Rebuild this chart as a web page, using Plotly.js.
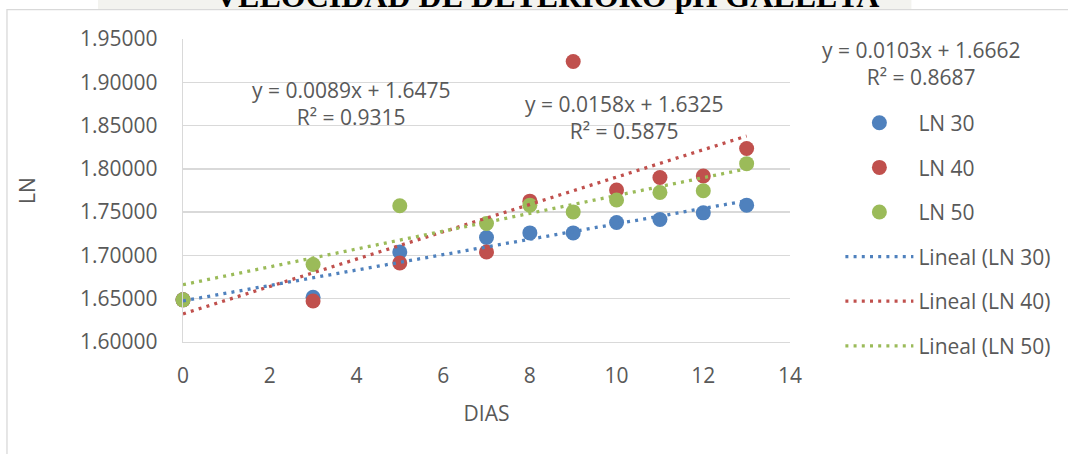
<!DOCTYPE html>
<html>
<head>
<meta charset="utf-8">
<script src="https://cdn.plot.ly/plotly-3.0.1.min.js"></script>
<style>html,body{margin:0;padding:0;background:#fff;}#chart{width:1068px;height:454px;}</style>
</head>
<body>
<div id="chart"></div>
<script>
// ---- data ----
const TITLE = "VELOCIDAD DE DETERIORO pH GALLETA";
const X_TITLE = "DIAS";
const Y_TITLE = "LN";
const DIAS = [0, 3, 5, 7, 8, 9, 10, 11, 12, 13];
const LN30 = [1.6487, 1.6516, 1.7040, 1.7207, 1.7260, 1.7260, 1.7381, 1.7415, 1.7492, 1.7581];
const LN40 = [1.6487, 1.6473, 1.6913, 1.7040, 1.7627, 1.9240, 1.7755, 1.7901, 1.7917, 1.8235];
const LN50 = [1.6487, 1.6895, 1.7573, 1.7369, 1.7581, 1.7503, 1.7640, 1.7728, 1.7747, 1.8060];
const SERIES_NAMES = ["LN 30", "LN 40", "LN 50"];
const TREND_NAMES = ["Lineal (LN 30)", "Lineal (LN 40)", "Lineal (LN 50)"];
const SLOPES = [0.0089, 0.0158, 0.0103];
const INTERCEPTS = [1.6475, 1.6325, 1.6662];
const R2 = [0.9315, 0.5875, 0.8687];
const X_TICKS = [0, 2, 4, 6, 8, 10, 12, 14];
const Y_TICKS = [1.60, 1.65, 1.70, 1.75, 1.80, 1.85, 1.90, 1.95];

// ---- styling ----
const COLORS = ["#4F81BD", "#C0504D", "#9BBB59"];
const FONT = "Open Sans, Noto Sans, sans-serif";
const TXT = "#595959";
const GRID = "#d9d9d9";

const seriesY = [LN30, LN40, LN50];
const traces = [];
seriesY.forEach((ys, i) => {
  traces.push({
    type: "scatter", mode: "markers", x: DIAS, y: ys, name: SERIES_NAMES[i],
    marker: {color: COLORS[i], size: 15}, cliponaxis: false,
    legendgroup: "g" + i
  });
});
const xmin = Math.min(...DIAS), xmax = Math.max(...DIAS);
SLOPES.forEach((m, i) => {
  const xs = [xmin, xmax];
  traces.push({
    type: "scatter", mode: "lines", x: xs, y: xs.map(v => m * v + INTERCEPTS[i]),
    name: TREND_NAMES[i],
    line: {color: COLORS[i], width: 3.3, dash: "3px,5.2px"},
    legendgroup: "t" + i
  });
});

// annotation placement (paper coords)
const eqPos = [[0.277, 0.786], [0.7265, 0.742], [1.215, 0.92]];
const annotations = SLOPES.map((m, i) => ({
  xref: "paper", yref: "paper", x: eqPos[i][0], y: eqPos[i][1],
  xanchor: "center", yanchor: "middle", showarrow: false, align: "center",
  text: "y = " + m.toFixed(4) + "x + " + INTERCEPTS[i].toFixed(4) + "<br>R² = " + R2[i].toFixed(4),
  font: {family: FONT, size: 21, color: TXT}
}));
annotations.push({
  xref: "paper", yref: "paper", x: 0.600, y: 1.077, xanchor: "center", yanchor: "bottom",
  showarrow: false, text: "<b>" + TITLE + "</b>",
  font: {family: "Liberation Serif, Times New Roman, serif", size: 32, color: "#000"}
});

const layout = {
  width: 1068, height: 454,
  margin: {l: 183, r: 278, t: 39, b: 112, pad: 0},
  paper_bgcolor: "#ffffff", plot_bgcolor: "#ffffff",
  font: {family: FONT, color: TXT, size: 21},
  showlegend: true,
  legend: {
    x: 1.083, y: 0.79, xanchor: "left", yanchor: "top",
    font: {family: FONT, size: 21, color: TXT},
    tracegroupgap: 14.3, itemwidth: 68, bgcolor: "rgba(0,0,0,0)"
  },
  xaxis: {
    range: [0, 14], tickvals: X_TICKS, ticktext: X_TICKS.map(String),
    showgrid: false, zeroline: false, showline: true, linecolor: GRID, linewidth: 1.3,
    ticks: "", tickfont: {family: FONT, size: 21, color: TXT}, ticklabelstandoff: 14,
    title: {text: X_TITLE, font: {family: FONT, size: 21, color: TXT}, standoff: 18}
  },
  yaxis: {
    range: [1.6, 1.95], tickvals: Y_TICKS, ticktext: Y_TICKS.map(v => v.toFixed(5)),
    showgrid: true, gridcolor: GRID, gridwidth: 1.3, zeroline: false,
    showline: true, linecolor: GRID, linewidth: 1.3,
    ticks: "", tickfont: {family: FONT, size: 21, color: TXT}, ticklabelstandoff: 20,
    title: {text: Y_TITLE, font: {family: FONT, size: 21, color: TXT}, standoff: 38}
  },
  shapes: [
    {type: "rect", xref: "paper", yref: "paper", x0: -0.14, x1: 1.2, y0: 1.097, y1: 1.14,
     fillcolor: "#f3f3ef", line: {width: 0}, layer: "below"},
    {type: "rect", xref: "paper", yref: "paper", x0: -0.29, x1: 1.5, y0: -0.5, y1: 1.097,
     fillcolor: "rgba(0,0,0,0)", line: {color: GRID, width: 1.3}, layer: "below"}
  ],
  annotations: annotations
};

Plotly.newPlot("chart", traces, layout, {displayModeBar: false, staticPlot: true});
</script>
</body>
</html>
